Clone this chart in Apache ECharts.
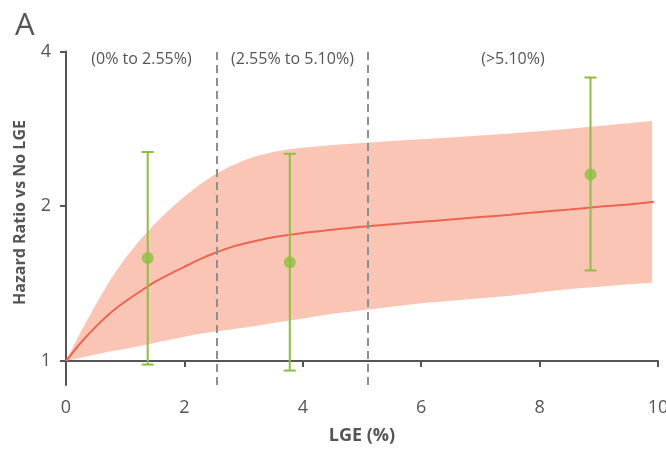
<!DOCTYPE html>
<html>
<head>
<meta charset="utf-8">
<script src="https://cdn.jsdelivr.net/npm/echarts@6/dist/echarts.min.js"></script>
<style>
html,body{margin:0;padding:0;background:#fff;}
#chart{width:666px;height:449px;}
</style>
</head>
<body>
<div id="chart"></div>
<script>
// ---- data ----
const curveX = [0, 0.25, 0.5, 0.75, 1.0, 1.25, 1.5, 1.75, 2.0, 2.25, 2.5, 2.75, 3.0, 3.5, 4.0, 4.5, 5.0, 5.5, 6.0, 6.5, 7.0, 7.5, 8.0, 8.5, 9.0, 9.5, 9.93];
const hrLine  = [1.00, 1.085, 1.165, 1.24, 1.305, 1.365, 1.425, 1.475, 1.525, 1.575, 1.62, 1.66, 1.69, 1.74, 1.775, 1.80, 1.825, 1.845, 1.865, 1.885, 1.905, 1.925, 1.95, 1.97, 1.995, 2.015, 2.04];
const bandX   = [0, 0.25, 0.5, 0.75, 1.0, 1.25, 1.5, 1.75, 2.0, 2.25, 2.5, 2.75, 3.0, 3.25, 3.5, 3.75, 4.0, 4.5, 5.0, 5.5, 6.0, 6.5, 7.0, 7.5, 8.0, 8.5, 9.0, 9.5, 9.9];
const bandUpper = [1.00, 1.14, 1.285, 1.44, 1.585, 1.72, 1.85, 1.97, 2.09, 2.20, 2.30, 2.385, 2.455, 2.51, 2.55, 2.58, 2.60, 2.63, 2.655, 2.68, 2.70, 2.72, 2.745, 2.77, 2.80, 2.83, 2.865, 2.90, 2.93];
const bandLower = [1.00, 1.015, 1.03, 1.045, 1.055, 1.07, 1.085, 1.10, 1.115, 1.13, 1.14, 1.15, 1.16, 1.172, 1.185, 1.197, 1.21, 1.235, 1.255, 1.275, 1.295, 1.31, 1.325, 1.34, 1.36, 1.38, 1.395, 1.41, 1.42];
const groupX   = [1.38, 3.78, 8.86];
const groupHR  = [1.586, 1.556, 2.306];
const groupLow = [0.984, 0.958, 1.50];
const groupHigh= [2.55, 2.53, 3.56];
const cutoffs = [2.55, 5.10];
const groupLabels = ['(0% to 2.55%)', '(2.55% to 5.10%)', '(>5.10%)'];
const xTicks = [0, 2, 4, 6, 8, 10];
const yTicks = [1, 2, 4];
const yMin = 0.898, yMax = 4;

const L = v => Math.log2(v);
const FONT = '"Open Sans", "Noto Sans", sans-serif';
const TXT = '#555555';

const chart = echarts.init(document.getElementById('chart'), null, {renderer: 'canvas'});

const bandData = bandX.map((x, i) => [x, L(bandLower[i]), L(bandUpper[i])]);
const lineData = curveX.map((x, i) => [x, L(hrLine[i])]);
const errData = groupX.map((x, i) => [x, L(groupLow[i]), L(groupHigh[i])]);
const ptData = groupX.map((x, i) => [x, L(groupHR[i])]);

const bounds = [0].concat(cutoffs).concat([10]);
const areaData = groupLabels.map((t, i) => [
  {xAxis: bounds[i], name: t},
  {xAxis: bounds[i + 1]}
]);

const option = {
  animation: false,
  backgroundColor: '#ffffff',
  title: {
    text: 'A', left: 10, top: 6,
    textStyle: {fontFamily: FONT, fontSize: 31, fontWeight: 'normal', color: TXT}
  },
  grid: {left: 66, right: 8, top: 51.5, bottom: 64, containLabel: false, outerBoundsMode: 'none'},
  xAxis: {
    type: 'value', min: 0, max: 10, interval: 2,
    name: 'LGE (%)', nameLocation: 'middle', nameGap: 42,
    nameTextStyle: {fontFamily: FONT, fontSize: 18, fontWeight: 'bold', color: TXT},
    axisLine: {lineStyle: {color: TXT, width: 2}},
    axisTick: {show: true, length: 6, lineStyle: {color: TXT, width: 2}},
    axisLabel: {fontFamily: FONT, fontSize: 18, color: TXT, margin: 14,
      formatter: v => xTicks.indexOf(v) >= 0 ? String(v) : ''},
    splitLine: {show: false}
  },
  yAxis: {
    type: 'value', min: L(yMin), max: L(yMax),
    axisLine: {show: true, lineStyle: {color: TXT, width: 2}},
    axisTick: {show: true, length: 6, lineStyle: {color: TXT, width: 2},
      customValues: yTicks.map(L)},
    axisLabel: {fontFamily: FONT, fontSize: 18, color: TXT, margin: 15,
      customValues: yTicks.map(L),
      formatter: v => String(Math.round(Math.pow(2, v)))},
    splitLine: {show: false}
  },
  graphic: [{
    type: 'text', x: 20.5, y: 212.5, rotation: Math.PI / 2,
    style: {text: 'Hazard Ratio vs No LGE', fill: TXT,
      font: 'bold 16px ' + FONT, textAlign: 'center', textVerticalAlign: 'middle'}
  }],
  series: [
    {
      type: 'line', data: [], z: 1, silent: true,
      markLine: {
        silent: true, symbol: 'none',
        label: {show: false},
        lineStyle: {color: '#8f8f8f', width: 2, type: [8, 5]},
        data: cutoffs.map(c => ({xAxis: c}))
      },
      markArea: {
        silent: true,
        itemStyle: {color: 'rgba(0,0,0,0)'},
        label: {show: true, position: 'insideTop', distance: 0,
          fontFamily: FONT, fontSize: 16, color: TXT},
        data: areaData
      }
    },
    {
      type: 'custom', z: 2, silent: true,
      data: bandData,
      encode: {x: 0, y: [1, 2]},
      renderItem: function (params, api) {
        if (params.dataIndex !== 0) return null;
        const up = bandData.map(d => api.coord([d[0], d[2]]));
        const lo = bandData.map(d => api.coord([d[0], d[1]])).reverse();
        return {
          type: 'polygon',
          shape: {points: up.concat(lo)},
          style: {fill: 'rgba(246,158,132,0.6)'}
        };
      }
    },
    {
      type: 'line', z: 3, data: lineData, smooth: 0.3, symbol: 'none',
      lineStyle: {color: '#ef6450', width: 2}, silent: true
    },
    {
      type: 'custom', z: 4, silent: true,
      data: errData,
      encode: {x: 0, y: [1, 2]},
      renderItem: function (params, api) {
        const x = api.value(0);
        const lo = api.coord([x, api.value(1)]);
        const hi = api.coord([x, api.value(2)]);
        const w = 6;
        const st = {stroke: '#8cbf3f', lineWidth: 2};
        return {
          type: 'group',
          children: [
            {type: 'line', shape: {x1: lo[0], y1: lo[1], x2: hi[0], y2: hi[1]}, style: st},
            {type: 'line', shape: {x1: lo[0] - w, y1: lo[1], x2: lo[0] + w, y2: lo[1]}, style: st},
            {type: 'line', shape: {x1: hi[0] - w, y1: hi[1], x2: hi[0] + w, y2: hi[1]}, style: st}
          ]
        };
      }
    },
    {
      type: 'scatter', z: 5, data: ptData, symbol: 'circle', symbolSize: 12,
      itemStyle: {color: '#8cbf3f'}, silent: true
    }
  ]
};
chart.setOption(option);
</script>
</body>
</html>
